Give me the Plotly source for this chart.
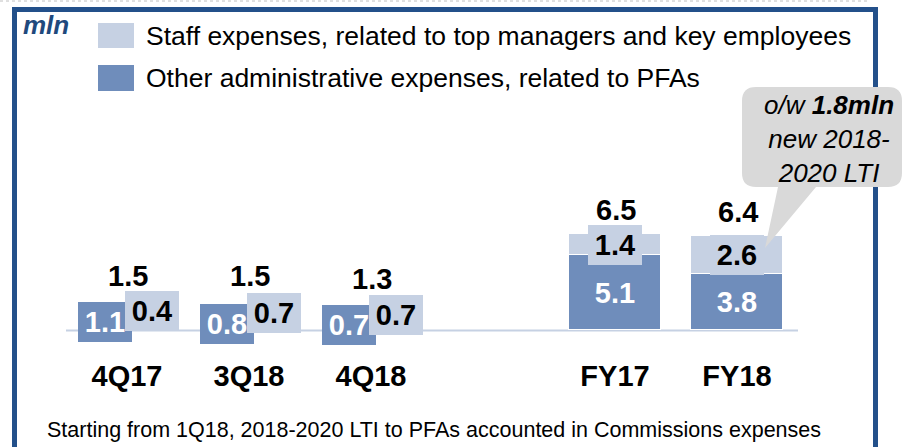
import plotly.graph_objects as go

# ---------------- data ----------------
categories = ["4Q17", "3Q18", "4Q18", "FY17", "FY18"]
other_admin = [1.1, 0.8, 0.7, 5.1, 3.8]      # Other administrative expenses, related to PFAs
staff = [0.4, 0.7, 0.7, 1.4, 2.6]            # Staff expenses, related to top managers and key employees
totals = [1.5, 1.5, 1.3, 6.5, 6.4]
series_names = ["Staff expenses, related to top managers and key employees",
                "Other administrative expenses, related to PFAs"]
footnote = "Starting from 1Q18, 2018-2020 LTI to PFAs accounted in Commissions expenses"
callout_text = "<i>o/w <b>1.8mln</b><br>new 2018-<br>2020 LTI</i>"
unit_text = "mln"

# ---------------- style ----------------
DARK = "#6F8DBB"
LIGHT = "#C6D1E3"
BORDER = "#23508A"
TITLE_BLUE = "#1F497D"
FONT = "Arial, Liberation Sans, sans-serif"

W, H = 908, 447
L, R, T, B = 66, 110, 60, 117
PW, PH = W - L - R, H - T - B


def px(x):
    return (x - L) / PW


def py(y):
    return (H - B - y) / PH


# x positions: quarters, then a gap, then full years
x_pos = [i if i < 3 else i + 1 for i in range(len(categories))]
is_quarter = [i < 3 for i in range(len(categories))]

fig = go.Figure()
fig.add_trace(go.Bar(x=x_pos, y=other_admin, name=series_names[1], marker_color=DARK,
                     marker_line_color="white", marker_line_width=1, width=0.76,
                     showlegend=False, hoverinfo="skip"))
fig.add_trace(go.Bar(x=x_pos, y=staff, name=series_names[0], marker_color=LIGHT,
                     marker_line_color="white", marker_line_width=1, width=0.76,
                     showlegend=False, hoverinfo="skip"))

annotations = []
lab_font = 29
for i, xp in enumerate(x_pos):
    q = is_quarter[i]
    # dark segment label
    annotations.append(dict(x=xp, y=other_admin[i] / 2, xref="x", yref="y",
                            text="<b>%.1f</b>" % other_admin[i], showarrow=False,
                            font=dict(family=FONT, size=lab_font, color="white"),
                            bgcolor=DARK, bordercolor=DARK, borderwidth=1, borderpad=1,
                            width=50, height=36, xshift=-22 if q else 0))
    # light segment label
    annotations.append(dict(x=xp, y=other_admin[i] + staff[i] / 2, xref="x", yref="y",
                            text="<b>%.1f</b>" % staff[i], showarrow=False,
                            font=dict(family=FONT, size=lab_font, color="black"),
                            bgcolor=LIGHT, bordercolor=LIGHT, borderwidth=1, borderpad=1,
                            width=50, height=36, xshift=25 if q else 0))
    # total label
    annotations.append(dict(x=xp, y=totals[i], xref="x", yref="y",
                            text="<b>%.1f</b>" % totals[i], showarrow=False,
                            font=dict(family=FONT, size=lab_font, color="black"),
                            yshift=32 if q else 24, xshift=1))

# unit label
annotations.append(dict(x=px(21), y=py(25), xref="paper", yref="paper", xanchor="left",
                        yanchor="middle", text="<b><i>%s</i></b>" % unit_text, showarrow=False,
                        font=dict(family=FONT, size=26, color=TITLE_BLUE)))
# legend texts
for k, yc in enumerate([36, 78]):
    annotations.append(dict(x=px(144), y=py(yc), xref="paper", yref="paper", xanchor="left",
                            yanchor="middle", text=series_names[k], showarrow=False,
                            font=dict(family=FONT, size=26.5, color="black")))
# callout text
annotations.append(dict(x=px(829), y=py(139), xref="paper", yref="paper", xanchor="center",
                        yanchor="middle", text=callout_text, showarrow=False, align="center",
                        font=dict(family=FONT, size=26, color="black")))
# footnote
annotations.append(dict(x=px(45), y=py(430), xref="paper", yref="paper", xanchor="left",
                        yanchor="middle", text=footnote, showarrow=False,
                        font=dict(family=FONT, size=21.5, color="black")))

shapes = []
# top dotted line
shapes.append(dict(type="line", xref="paper", yref="paper", x0=px(0), x1=px(870),
                   y0=py(1), y1=py(1), line=dict(color="#C0C0C0", width=1, dash="dot")))
# frame
shapes.append(dict(type="rect", xref="paper", yref="paper", x0=px(14.5), x1=px(875.5),
                   y0=py(9.5), y1=py(470), line=dict(color=BORDER, width=5), layer="above"))
# baseline
shapes.append(dict(type="line", xref="paper", yref="paper", x0=px(66), x1=px(798),
                   y0=py(330.5), y1=py(330.5), line=dict(color=LIGHT, width=2), layer="below"))
# legend swatches
shapes.append(dict(type="rect", xref="paper", yref="paper", x0=px(98), x1=px(134),
                   y0=py(23), y1=py(48), fillcolor=LIGHT, line=dict(width=0)))
shapes.append(dict(type="rect", xref="paper", yref="paper", x0=px(98), x1=px(134),
                   y0=py(65), y1=py(91), fillcolor=DARK, line=dict(width=0)))

# callout bubble
x0, x1, y0, y1, r = 742, 902, 87, 187, 14
pts = [("M", [(x0 + r, y0)]), ("L", [(x1 - r, y0)]), ("Q", [(x1, y0), (x1, y0 + r)]),
       ("L", [(x1, y1 - r)]), ("Q", [(x1, y1), (x1 - r, y1)]), ("L", [(816, y1)]),
       ("L", [(765, 248)]), ("L", [(778, y1)]), ("L", [(x0 + r, y1)]),
       ("Q", [(x0, y1), (x0, y1 - r)]), ("L", [(x0, y0 + r)]), ("Q", [(x0, y0), (x0 + r, y0)])]
path = ""
for cmd, plist in pts:
    path += cmd + " ".join("%.5f,%.5f" % (px(a), py(b)) for a, b in plist) + " "
path += "Z"
shapes.append(dict(type="path", xref="paper", yref="paper", path=path, fillcolor="#D9D9D9",
                   line=dict(width=0), layer="above"))

fig.update_layout(
    width=W, height=H, margin=dict(l=L, r=R, t=T, b=B),
    barmode="stack", bargap=0,
    plot_bgcolor="white", paper_bgcolor="white",
    xaxis=dict(range=[-0.5, 5.5], tickvals=x_pos, ticktext=["<b>%s</b>" % c for c in categories],
               tickfont=dict(family=FONT, size=29, color="black"), ticks="outside",
               ticklen=20, tickcolor="rgba(0,0,0,0)", showgrid=False, zeroline=False,
               showline=False, fixedrange=True),
    yaxis=dict(range=[0, PH / 14.7], visible=False, fixedrange=True),
    annotations=annotations, shapes=shapes, showlegend=False, hovermode=False,
)

fig.write_html("out.html", config={"displayModeBar": False},
               post_script="document.body.style.margin='0px';")
